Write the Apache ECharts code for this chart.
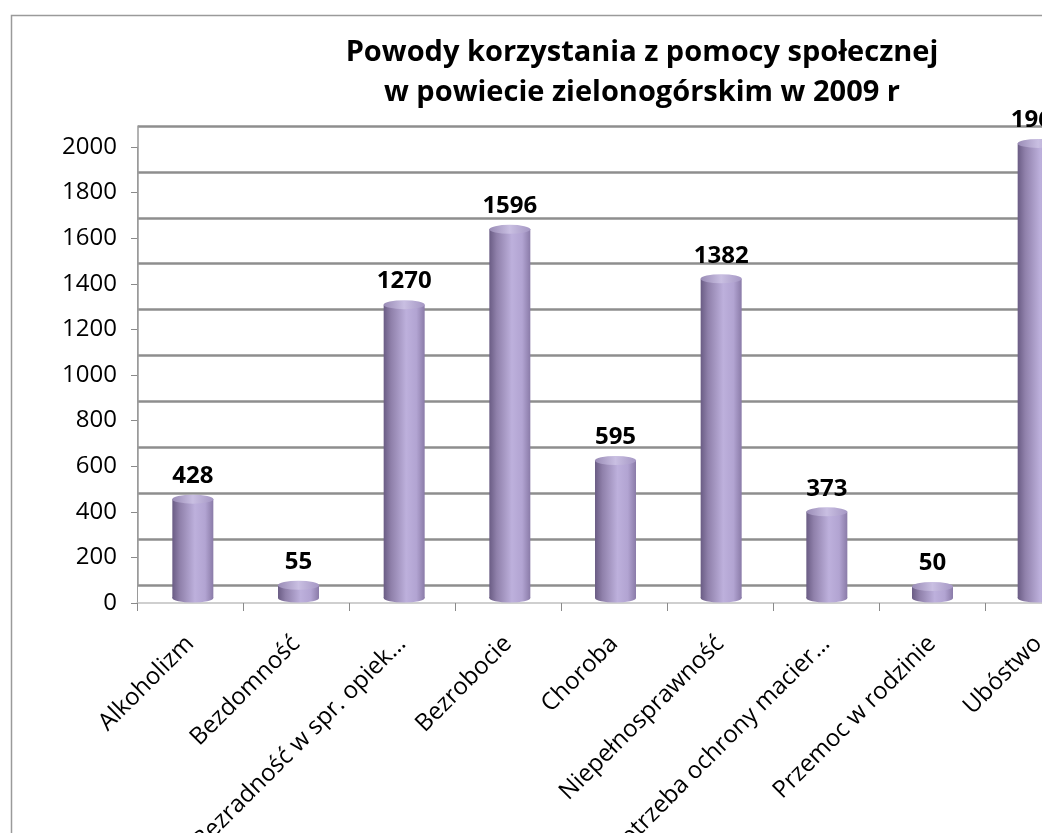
<!DOCTYPE html>
<html>
<head>
<meta charset="utf-8">
<script src="https://cdn.jsdelivr.net/npm/echarts@6/dist/echarts.min.js"></script>
<style>
html,body{margin:0;padding:0;background:#fff;overflow:hidden;}
#chart{width:1042px;height:833px;}
</style>
</head>
<body>
<div id="chart"></div>
<script>
const titleText = 'Powody korzystania z pomocy społecznej\nw powiecie zielonogórskim w 2009 r';
const categories = ['Alkoholizm','Bezdomność','Bezradność w spr. opiek…','Bezrobocie','Choroba','Niepełnosprawność','Potrzeba ochrony macier…','Przemoc w rodzinie','Ubóstwo'];
const values = [428, 55, 1270, 1596, 595, 1382, 373, 50, 1968];
const yMin = 0, yMax = 2000, yStep = 200;

const FONT = '"Open Sans", "Noto Sans", sans-serif';
const chart = echarts.init(document.getElementById('chart'), null, {renderer:'canvas'});

const barGrad = new echarts.graphic.LinearGradient(0,0,1,0,[
  {offset:0, color:'#6a5c84'},
  {offset:0.18, color:'#8f80aa'},
  {offset:0.55, color:'#bdb0dc'},
  {offset:0.8, color:'#b2a4d2'},
  {offset:1, color:'#8a7ba8'}
]);
const topGrad = new echarts.graphic.LinearGradient(0,0,1,0,[
  {offset:0, color:'#9a8cb6'},
  {offset:0.5, color:'#c9bfe2'},
  {offset:1, color:'#a597c4'}
]);
const ellipse = 'path://M0,10 A20,10 0 1,1 40,10 A20,10 0 1,1 0,10 Z';

const option = {
  backgroundColor:'#ffffff',
  animation:false,
  textStyle:{fontFamily:FONT},
  graphic:[{
    type:'rect', left:9, top:13, z:0,
    shape:{x:0,y:0,width:1200,height:1000},
    style:{fill:'none', stroke:'#9a9a9a', lineWidth:1.5}
  }],
  title:{
    text:titleText,
    left:637, top:28, textAlign:'center',
    textStyle:{fontFamily:FONT, fontSize:29, fontWeight:'bold', color:'#000', lineHeight:40}
  },
  grid:[
    {left:137, width:954, top:147, height:456, containLabel:false, outerBoundsMode:'none'},
    {left:138, width:953, top:126, height:459, containLabel:false, outerBoundsMode:'none'},
    {left:140, width:951, top:136, height:462, containLabel:false, outerBoundsMode:'none'}
  ],
  xAxis:[
    {type:'category', gridIndex:0, data:categories,
     axisLine:{show:true, lineStyle:{color:'#c0c0c0', width:1.5}},
     axisTick:{show:true, length:8, lineStyle:{color:'#8a8a8a'}},
     axisLabel:{rotate:45, margin:37, interval:0, color:'#000', fontFamily:FONT, fontSize:24},
     splitLine:{show:false}},
    {type:'category', gridIndex:1, data:categories, show:false},
    {type:'category', gridIndex:2, data:categories, show:false}
  ],
  yAxis:[
    {type:'value', gridIndex:0, min:yMin, max:yMax, interval:yStep,
     axisLine:{show:true, lineStyle:{color:'#9a9a9a'}},
     axisTick:{show:true, inside:false, length:6, lineStyle:{color:'#8a8a8a'}},
     axisLabel:{color:'#000', fontFamily:FONT, fontSize:24, margin:20, formatter:(v)=>String(v)},
     splitLine:{show:false}},
    {type:'value', gridIndex:1, min:yMin, max:yMax, interval:yStep,
     axisLine:{show:true, lineStyle:{color:'#9a9a9a', width:1.5}},
     axisTick:{show:false}, axisLabel:{show:false},
     splitLine:{show:true, lineStyle:{color:'#8e8e8e', width:2.5}}},
    {type:'value', gridIndex:2, min:yMin, max:yMax, interval:yStep, show:false,
     splitLine:{show:false}}
  ],
  series:[
    {type:'bar', xAxisIndex:2, yAxisIndex:2, data:values, barWidth:41, z:5,
     itemStyle:{color:barGrad},
     label:{show:true, position:'top', distance:11, color:'#000', fontFamily:FONT, fontSize:24, fontWeight:'bold'}},
    {type:'pictorialBar', xAxisIndex:2, yAxisIndex:2, data:values, symbol:ellipse,
     symbolSize:[41,9], symbolPosition:'end', symbolOffset:[0,'-50%'], z:6,
     itemStyle:{color:topGrad}},
    {type:'pictorialBar', xAxisIndex:2, yAxisIndex:2, data:values.map(()=>0), symbol:ellipse,
     symbolSize:[41,9], symbolPosition:'start', symbolOffset:[0,'50%'], z:4,
     itemStyle:{color:barGrad}}
  ]
};
chart.setOption(option);
</script>
</body>
</html>
